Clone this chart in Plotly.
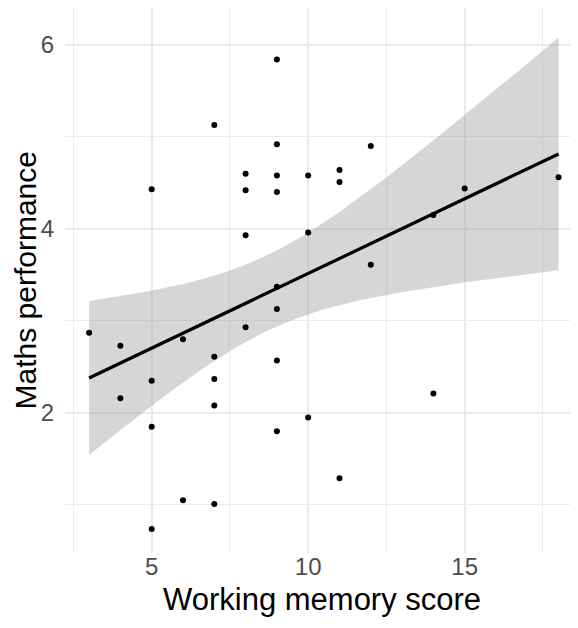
import numpy as np
import plotly.graph_objects as go

# Data
working_memory = [3, 4, 4, 5, 5, 5, 5, 6, 6, 7, 7, 7, 7, 7, 8, 8, 8, 8,
                  9, 9, 9, 9, 9, 9, 9, 9, 10, 10, 10, 11, 11, 11, 12, 12,
                  14, 14, 15, 18]
maths_perf = [2.87, 2.73, 2.16, 4.43, 2.35, 1.85, 0.74, 2.80, 1.05, 5.13,
              2.61, 2.37, 2.08, 1.01, 4.60, 4.42, 3.93, 2.93,
              5.84, 4.92, 4.58, 4.40, 3.37, 3.13, 2.57, 1.80,
              4.58, 3.96, 1.95, 4.64, 4.51, 1.29, 4.90, 3.61,
              4.15, 2.21, 4.44, 4.56]
x_ticks = [5, 10, 15]
y_ticks = [2, 4, 6]

# Linear model fit with 95% confidence band (like geom_smooth(method="lm"))
x = np.array(working_memory, dtype=float)
y = np.array(maths_perf, dtype=float)
n = len(x)
b1, b0 = np.polyfit(x, y, 1)
resid = y - (b0 + b1 * x)
s = np.sqrt(np.sum(resid ** 2) / (n - 2))
xbar = x.mean()
sxx = np.sum((x - xbar) ** 2)
t_crit = 2.028  # t(0.975, df=36)
xs = np.linspace(x.min(), x.max(), 80)
fit = b0 + b1 * xs
se = s * np.sqrt(1.0 / n + (xs - xbar) ** 2 / sxx)
upper = fit + t_crit * se
lower = fit - t_crit * se

fig = go.Figure()
fig.add_trace(go.Scatter(
    x=np.concatenate([xs, xs[::-1]]),
    y=np.concatenate([upper, lower[::-1]]),
    fill="toself", fillcolor="rgba(153,153,153,0.4)",
    line=dict(width=0), mode="lines", hoverinfo="skip", showlegend=False))
fig.add_trace(go.Scatter(
    x=working_memory, y=maths_perf, mode="markers",
    marker=dict(color="black", size=6), showlegend=False))
fig.add_trace(go.Scatter(
    x=xs, y=fit, mode="lines", line=dict(color="black", width=3.2),
    showlegend=False))

grid = "#EBEBEB"
family = "Liberation Sans, Arial, sans-serif"
tickfont = dict(family=family, size=24, color="#4D4D4D")
# the page body adds an 8px offset; the figure is sized so the panel lands
# where it is in the reference
fig.update_layout(
    width=570, height=620,
    margin=dict(l=57, r=0, t=0, b=75),
    paper_bgcolor="white", plot_bgcolor="white",
    font=dict(family=family),
    xaxis=dict(range=[2.23, 18.62], tickvals=x_ticks, ticktext=[str(v) for v in x_ticks],
               automargin=False,
               showgrid=True, gridcolor=grid, gridwidth=1.6, zeroline=False,
               showline=False, ticks="", ticklabelstandoff=-3,
               tickfont=tickfont,
               minor=dict(tickvals=[2.5, 7.5, 12.5, 17.5], showgrid=True,
                          gridcolor=grid, gridwidth=1, ticks="")),
    yaxis=dict(range=[0.478, 6.40], tickvals=y_ticks, ticktext=[str(v) for v in y_ticks],
               automargin=False,
               showgrid=True, gridcolor=grid, gridwidth=1.6, zeroline=False,
               showline=False, ticks="outside", ticklen=5, tickcolor="rgba(0,0,0,0)",
               tickfont=tickfont,
               minor=dict(tickvals=[1, 3, 5], showgrid=True,
                          gridcolor=grid, gridwidth=1, ticks="")),
    annotations=[
        dict(text="Working memory score", xref="paper", yref="paper",
             x=0.5, y=0, xanchor="center", yanchor="middle", yshift=-46,
             showarrow=False,
             font=dict(family=family, size=31, color="black")),
        dict(text="Maths performance", xref="paper", yref="paper",
             x=0, y=0.5, xanchor="center", yanchor="middle", xshift=-40,
             textangle=-90, showarrow=False, borderpad=0,
             font=dict(family=family, size=30, color="black")),
    ],
)

fig.write_html("out.html")
